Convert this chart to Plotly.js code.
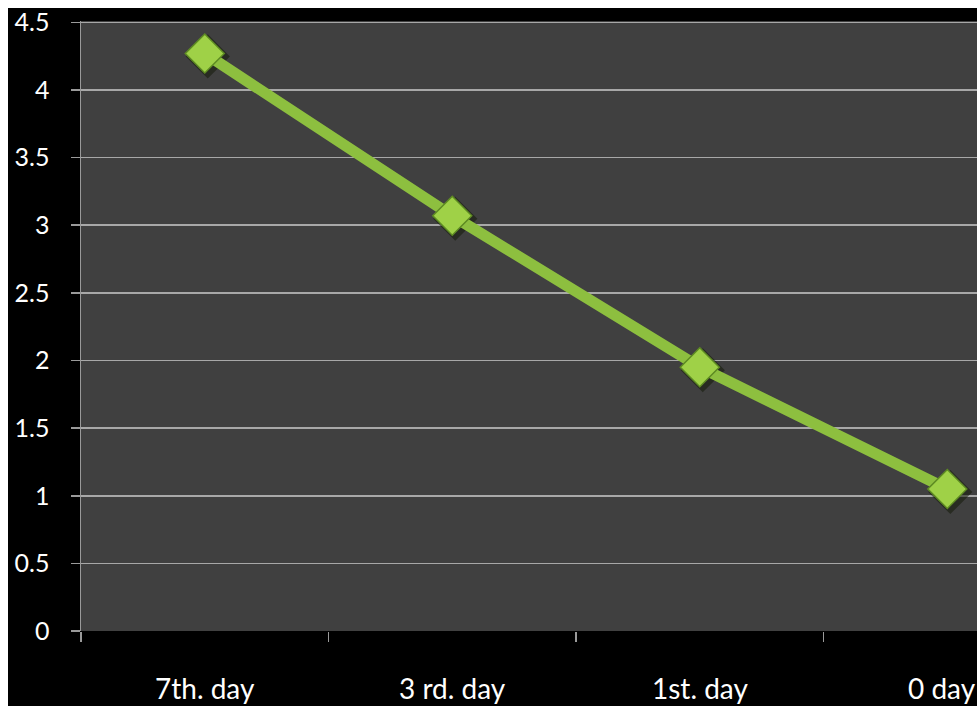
<!DOCTYPE html>
<html>
<head>
<meta charset="utf-8">
<script src="https://cdn.plot.ly/plotly-3.0.1.min.js"></script>
<style>
  html, body { margin: 0; padding: 0; background: #ffffff; overflow: hidden; }
  #chart { position: absolute; left: 0; top: 0; width: 977px; height: 706px; }
</style>
</head>
<body>
<div id="chart"></div>
<script>
// Category labels along the x axis
const days = ["7th. day", "3 rd. day", "1st. day", "0 day"];
// Measured value for each day
const values = [4.27, 3.07, 1.95, 1.05];
// Y axis tick values and labels
const yTicks = [0, 0.5, 1, 1.5, 2, 2.5, 3, 3.5, 4, 4.5];
const yTickLabels = ["0", "0.5", "1", "1.5", "2", "2.5", "3", "3.5", "4", "4.5"];

const font = "Lato, 'Open Sans', sans-serif";

const W = 977, H = 706;
const M = { l: 81, r: 0, t: 21, b: 75 };
const plotW = W - M.l - M.r, plotH = H - M.t - M.b;
const border = 8; // white frame along the top and left edges

const traces = [
  {
    // soft drop shadow beneath the markers
    x: days, y: values, type: "scatter", mode: "markers",
    marker: { symbol: "diamond", size: 34, color: "rgba(20,25,10,0.55)", line: { width: 0 } },
    hoverinfo: "skip", cliponaxis: false
  },
  {
    x: days, y: values, type: "scatter", mode: "lines+markers",
    line: { color: "#8dbf3f", width: 11 },
    marker: { symbol: "diamond", size: 30, color: "#9fd147", line: { color: "#5d8a22", width: 1.5 } },
    cliponaxis: false
  }
];

// category labels under the axis; the last one is nudged in from the right edge
const labelAnnotations = days.map((d, i) => ({
  x: d, xref: "x",
  y: -(688 - (H - M.b)) / plotH, yref: "paper",
  yanchor: "middle", xanchor: "center",
  xshift: i === days.length - 1 ? -5 : 0,
  text: d, showarrow: false,
  font: { family: font, size: 28, color: "#ffffff" }
}));

const px = v => v / plotW, py = v => v / plotH;

const layout = {
  width: W, height: H,
  paper_bgcolor: "#000000",
  plot_bgcolor: "#404040",
  showlegend: false,
  margin: M,
  font: { family: font, color: "#ffffff", size: 25 },
  xaxis: {
    type: "category",
    range: [-0.5, 3.12],
    showgrid: false,
    showline: false,
    zeroline: false,
    showticklabels: false,
    ticks: "outside", tickson: "boundaries", ticklen: 10, tickwidth: 1.5, tickcolor: "#9a9a9a"
  },
  yaxis: {
    range: [0, 4.51],
    tickvals: yTicks, ticktext: yTickLabels,
    showgrid: true, gridcolor: "#a8a8a8", gridwidth: 1.5,
    zeroline: false,
    showline: true, linecolor: "#9a9a9a", linewidth: 1.5,
    ticks: "outside", ticklen: 9, tickwidth: 1.5, tickcolor: "#9a9a9a",
    ticklabelstandoff: 16,
    ticklabeloverflow: "allow",
    tickfont: { family: font, size: 25, color: "#ffffff" }
  },
  annotations: labelAnnotations,
  shapes: [
    { type: "rect", xref: "paper", yref: "paper", layer: "below", line: { width: 0 }, fillcolor: "#ffffff",
      x0: px(-M.l), x1: 1 + px(M.r), y0: 1 + py(M.t - border), y1: 1 + py(M.t) },
    { type: "rect", xref: "paper", yref: "paper", layer: "below", line: { width: 0 }, fillcolor: "#ffffff",
      x0: px(-M.l), x1: px(-M.l + border), y0: -py(M.b), y1: 1 + py(M.t) }
  ]
};

// nudge the shadow trace slightly down-right of the real markers
Plotly.newPlot("chart", traces, layout, { displayModeBar: false, staticPlot: true }).then(() => {
  const pts = document.querySelectorAll(".scatterlayer .trace:first-child .points path");
  pts.forEach(p => {
    const t = p.getAttribute("transform");
    const m = /translate\(([-\d.]+),\s*([-\d.]+)\)/.exec(t);
    if (m) p.setAttribute("transform", `translate(${+m[1] + 3},${+m[2] + 3})`);
  });
});
</script>
</body>
</html>
